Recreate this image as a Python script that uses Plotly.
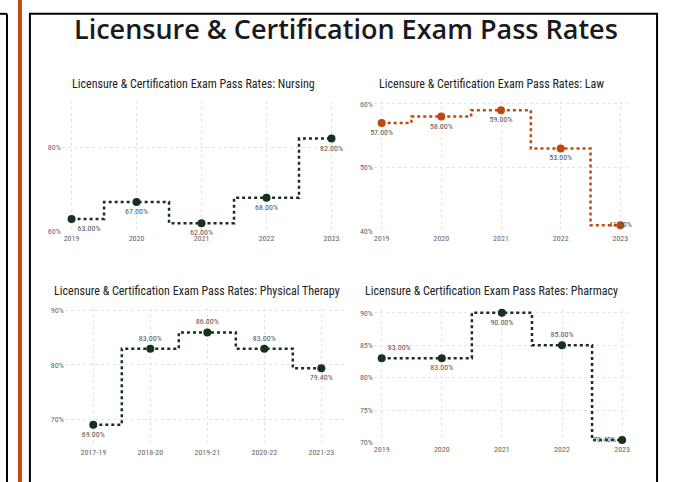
import plotly.graph_objects as go
from plotly.subplots import make_subplots

W, H = 673, 482

# data
nursing_years = ["2019", "2020", "2021", "2022", "2023"]
nursing_rates = [63.0, 67.0, 62.0, 68.0, 82.0]

law_years = ["2019", "2020", "2021", "2022", "2023"]
law_rates = [57.0, 58.0, 59.0, 53.0, 41.0]

pt_years = ["2017-19", "2018-20", "2019-21", "2020-22", "2021-23"]
pt_rates = [69.0, 83.0, 86.0, 83.0, 79.4]

pharmacy_years = ["2019", "2020", "2021", "2022", "2023"]
pharmacy_rates = [83.0, 83.0, 90.0, 85.0, 70.4]

main_title = "Licensure & Certification Exam Pass Rates"
sub_titles = [
    "Licensure & Certification Exam Pass Rates: Nursing",
    "Licensure & Certification Exam Pass Rates: Law",
    "Licensure & Certification Exam Pass Rates: Physical Therapy",
    "Licensure & Certification Exam Pass Rates: Pharmacy",
]

DARK = "#17301f"
ORANGE = "#c04a0e"
NARROW = "Liberation Sans Narrow, Roboto Condensed, Arial Narrow, Roboto, sans-serif"


def px(x):
    return x / W


def py(y):
    return 1 - y / H


fig = make_subplots(rows=2, cols=2)

panels = [
    # (x, y, row, col, color, text positions)
    (nursing_years, nursing_rates, 1, 1, DARK,
     ["bottom right"] + ["bottom center"] * 4),
    (law_years, law_rates, 1, 2, ORANGE,
     ["bottom center"] * 4 + ["middle center"]),
    (pt_years, pt_rates, 2, 1, DARK,
     ["bottom center", "top center", "top center", "top center", "bottom center"]),
    (pharmacy_years, pharmacy_rates, 2, 2, DARK,
     ["top right", "bottom center", "bottom center", "top center", "middle left"]),
]

for xs, ys, row, col, color, tpos in panels:
    fig.add_trace(
        go.Scatter(
            x=xs, y=ys,
            mode="lines+markers+text",
            line=dict(shape="hvh", dash="dot", color=color, width=2.5),
            marker=dict(size=8, color=color),
            texttemplate="%{y:.2f}%",
            textposition=tpos,
            textfont=dict(family=NARROW, size=8, color="#555555"),
            cliponaxis=False,
            hoverinfo="skip",
        ),
        row=row, col=col
    )

# plot areas in pixels: (left, right, top, bottom)
areas = [
    (62, 339, 100, 233),
    (375, 630, 100, 233),
    (65, 348, 311, 451),
    (375, 630, 312, 447),
]
x_ranges = [[-0.15, 4.1], [-0.13, 4.13], [-0.5, 4.45], [-0.13, 4.1]]
y_ranges = [[60, 91], [40, 60.5], [65, 90.4], [70, 90.5]]
y_dticks = [20, 10, 10, 5]

for i, (l, r, t, b) in enumerate(areas):
    n = "" if i == 0 else str(i + 1)
    fig.update_layout(**{
        "xaxis" + n: dict(
            domain=[px(l), px(r)], type="category", range=x_ranges[i],
            showgrid=True, gridcolor="#e4e4e4", griddash="dot", gridwidth=1,
            zeroline=False, showline=False, ticks="",
            tickfont=dict(family=NARROW, size=8, color="#666666"),
        ),
        "yaxis" + n: dict(
            domain=[py(b), py(t)], range=y_ranges[i], dtick=y_dticks[i],
            ticksuffix="%",
            showgrid=True, gridcolor="#e4e4e4", griddash="dot", gridwidth=1,
            zeroline=False, showline=False, ticks="",
            tickfont=dict(family=NARROW, size=8, color="#666666"),
        ),
    })

annotations = [
    dict(text=main_title, x=px(347), y=py(27), xref="paper", yref="paper",
         showarrow=False, xanchor="center", yanchor="middle",
         font=dict(family="Open Sans", size=27, color="#1a1a1a", weight=600)),
]
title_pos = [(194, 83), (493, 83), (198, 293), (493, 293)]
for txt, (tx, ty) in zip(sub_titles, title_pos):
    annotations.append(dict(
        text=txt, x=px(tx), y=py(ty), xref="paper", yref="paper",
        showarrow=False, xanchor="center", yanchor="middle",
        font=dict(family=NARROW, size=12, color="#222222"),
    ))

shapes = [
    # neighbouring panel edge on the left
    dict(type="line", xref="paper", yref="paper", x0=px(0), x1=px(7),
         y0=py(12), y1=py(12), line=dict(color="black", width=2)),
    dict(type="line", xref="paper", yref="paper", x0=px(7), x1=px(7),
         y0=py(12), y1=py(H + 5), line=dict(color="black", width=2)),
    # orange divider
    dict(type="line", xref="paper", yref="paper", x0=px(20), x1=px(20),
         y0=py(-5), y1=py(H + 5), line=dict(color=ORANGE, width=4)),
    # main frame
    dict(type="rect", xref="paper", yref="paper", x0=px(30), x1=px(659),
         y0=py(12), y1=py(H + 10), line=dict(color="black", width=2)),
]

fig.update_layout(
    width=W, height=H,
    margin=dict(l=0, r=0, t=0, b=0),
    paper_bgcolor="white", plot_bgcolor="white",
    showlegend=False,
    annotations=annotations,
    shapes=shapes,
)

fig.write_html("out.html", config={"displayModeBar": False},
               post_script="document.body.style.margin = '0';")
